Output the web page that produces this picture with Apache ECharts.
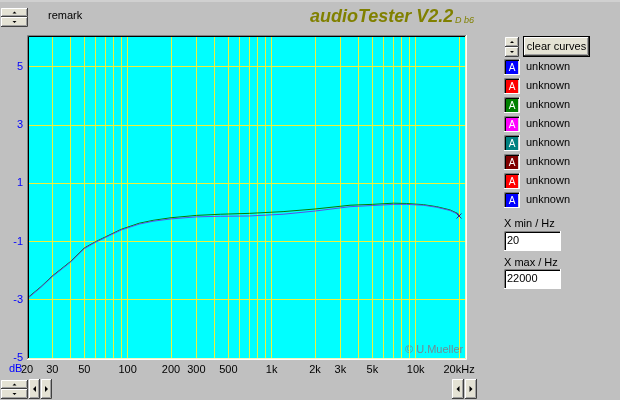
<!DOCTYPE html>
<html><head><meta charset="utf-8">
<script src="https://cdn.jsdelivr.net/npm/echarts@6/dist/echarts.min.js"></script>
<style>html,body{margin:0;padding:0;background:#c0c0c0;}#c{width:620px;height:400px;}</style>
</head><body><div id="c"></div>
<script>
// ---- data ----
const freqHz = [20, 25, 30, 40, 50, 60, 70, 90, 120, 150, 200, 300, 440, 700, 1200, 2000, 3500, 5000, 7000, 8600, 11300, 14000, 17300, 19700, 20000];
const curveGreenDb = [-2.95, -2.55, -2.18, -1.69, -1.22, -1.0, -0.84, -0.58, -0.37, -0.27, -0.18, -0.10, -0.06, -0.03, 0.03, 0.12, 0.25, 0.28, 0.32, 0.31, 0.27, 0.20, 0.09, -0.04, -0.10];
const curveBlueDb  = [-2.97, -2.57, -2.20, -1.71, -1.24, -1.02, -0.86, -0.60, -0.40, -0.30, -0.22, -0.15, -0.13, -0.12, -0.06, 0.05, 0.20, 0.24, 0.28, 0.28, 0.25, 0.18, 0.07, -0.06, -0.12];
const yTickValues = [-5, -3, -1, 1, 3, 5];
const xGridValues = [20, 30, 40, 50, 60, 70, 80, 90, 100, 200, 300, 400, 500, 600, 700, 800, 900, 1000, 2000, 3000, 4000, 5000, 6000, 7000, 8000, 9000, 10000, 20000];
const xLabelValues = [20, 30, 50, 100, 200, 300, 500, 1000, 2000, 3000, 5000, 10000, 20000];
const legendNames = ['unknown', 'unknown', 'unknown', 'unknown', 'unknown', 'unknown', 'unknown', 'unknown'];
const legendColors = ['#0000ff', '#ff0000', '#008000', '#ff00ff', '#008080', '#800000', '#ff0000', '#0000ff'];
const titleText = 'audioTester V2.2';
const versionText = 'D b6';
const remarkText = 'remark';
const xMinText = '20';
const xMaxText = '22000';

// ---- styles ----
const FONT = 'Liberation Sans, Arial, sans-serif';
const GRIDC = '#f0f038';
const FACE = '#e4e2d4';

function zip(a, b) { return a.map((v, i) => [v, b[i]]); }

function raised(x, y, w, h) {
  return [
    {type: 'rect', shape: {x: x, y: y, width: w, height: h}, style: {fill: FACE}},
    {type: 'polyline', shape: {points: [[x + 0.5, y + h - 1], [x + 0.5, y + 0.5], [x + w - 1, y + 0.5]]}, style: {stroke: '#ffffff', fill: 'none', lineWidth: 1}},
    {type: 'polyline', shape: {points: [[x, y + h - 0.5], [x + w - 0.5, y + h - 0.5], [x + w - 0.5, y]]}, style: {stroke: '#404040', fill: 'none', lineWidth: 1}},
    {type: 'polyline', shape: {points: [[x + 1, y + h - 1.5], [x + w - 1.5, y + h - 1.5], [x + w - 1.5, y + 1]]}, style: {stroke: '#a0a0a0', fill: 'none', lineWidth: 1}}
  ];
}
function sunken(x, y, w, h, fill) {
  return [
    {type: 'rect', shape: {x: x, y: y, width: w, height: h}, style: {fill: fill}},
    {type: 'polyline', shape: {points: [[x + 0.5, y + h], [x + 0.5, y + 0.5], [x + w, y + 0.5]]}, style: {stroke: '#808080', fill: 'none', lineWidth: 1}},
    {type: 'polyline', shape: {points: [[x + 1.5, y + h - 1], [x + 1.5, y + 1.5], [x + w - 1, y + 1.5]]}, style: {stroke: '#000000', fill: 'none', lineWidth: 1}},
    {type: 'polyline', shape: {points: [[x, y + h - 0.5], [x + w - 0.5, y + h - 0.5], [x + w - 0.5, y]]}, style: {stroke: '#ffffff', fill: 'none', lineWidth: 1}}
  ];
}
function tri(points) { return {type: 'polygon', shape: {points: points}, style: {fill: '#000'}}; }
function spinner(x, y, w, h) {
  const h1 = Math.floor(h / 2);
  const cx = x + w / 2;
  return [].concat(
    raised(x, y, w, h1), raised(x, y + h1, w, h - h1),
    [tri([[cx - 2, y + h1 / 2 + 1], [cx + 2, y + h1 / 2 + 1], [cx, y + h1 / 2 - 1]]),
     tri([[cx - 2, y + h1 + (h - h1) / 2 - 1], [cx + 2, y + h1 + (h - h1) / 2 - 1], [cx, y + h1 + (h - h1) / 2 + 1]])]
  );
}
function arrowBtn(x, y, w, h, dir) {
  const cx = x + w / 2, cy = y + h / 2;
  const t = dir < 0 ? tri([[cx + 1.5, cy - 3], [cx + 1.5, cy + 3], [cx - 1.5, cy]]) : tri([[cx - 1.5, cy - 3], [cx - 1.5, cy + 3], [cx + 1.5, cy]]);
  return raised(x, y, w, h).concat([t]);
}
function txt(x, y, s, opt) {
  return {type: 'text', x: x, y: y, style: Object.assign({text: s, fill: '#000', font: '11px ' + FONT, verticalAlign: 'middle'}, opt || {})};
}

const g = [];
// top strip
g.push({type: 'rect', shape: {x: 0, y: 0, width: 620, height: 2}, style: {fill: '#d0d0d0'}});
g.push(...spinner(1, 8, 27, 19));
g.push(txt(48, 16, remarkText));
g.push(txt(310, 17, titleText, {fill: '#808000', font: 'italic bold 18px ' + FONT}));
g.push(txt(455, 20, versionText, {fill: '#808000', font: 'italic 9px ' + FONT}));
// right panel
g.push(...spinner(505, 37, 14, 20));
g.push({type: 'rect', shape: {x: 523, y: 36, width: 67, height: 21}, style: {fill: '#000'}});
g.push(...raised(524, 37, 65, 19));
g.push(txt(556.5, 47, 'clear curves', {align: 'center'}));
legendNames.forEach((name, i) => {
  const cy = 67 + i * 19;
  g.push(...sunken(504, cy - 8, 16, 16, '#d8d8d8'));
  g.push({type: 'rect', shape: {x: 506, y: cy - 6, width: 12, height: 13}, style: {fill: legendColors[i]}});
  g.push(txt(512, cy + 1, 'A', {fill: '#ffffff', align: 'center', font: '10px ' + FONT}));
  g.push(txt(526, cy, name));
});
g.push(txt(504, 224, 'X min / Hz'));
g.push(...sunken(504, 231, 57, 20, '#ffffff'));
g.push(txt(507, 241, xMinText));
g.push(txt(504, 263, 'X max / Hz'));
g.push(...sunken(504, 269, 57, 20, '#ffffff'));
g.push(txt(507, 279, xMaxText));
// bottom controls
g.push(...spinner(1, 380, 27, 19));
g.push(...arrowBtn(29, 379, 11, 20, -1));
g.push(...arrowBtn(41, 379, 11, 20, 1));
g.push(...arrowBtn(452, 379, 12, 20, -1));
g.push(...arrowBtn(465, 379, 12, 20, 1));
g.push(txt(9, 369, 'dB', {fill: '#0000ff'}));
// plot frame
g.push({type: 'polyline', shape: {points: [[27.5, 360], [27.5, 35.5], [467, 35.5]]}, style: {stroke: '#808080', fill: 'none', lineWidth: 1}, z: 100});
g.push({type: 'polyline', shape: {points: [[28.5, 359], [28.5, 36.5], [466, 36.5]]}, style: {stroke: '#000000', fill: 'none', lineWidth: 1}, z: 100});
g.push({type: 'polyline', shape: {points: [[28, 358.5], [465.5, 358.5], [465.5, 36]]}, style: {stroke: '#f4f8c0', fill: 'none', lineWidth: 1}, z: 100});
g.push({type: 'polyline', shape: {points: [[27, 359.5], [466.5, 359.5], [466.5, 35]]}, style: {stroke: '#ffffff', fill: 'none', lineWidth: 1}, z: 100});
g.push(txt(405, 350, '\u00a9 U.Mueller', {fill: '#6f8c94'}));

const chart = echarts.init(document.getElementById('c'), null, {renderer: 'canvas'});
const lastIdx = freqHz.length - 1;
function seriesData(vals, withMark) {
  return zip(freqHz, vals).map((p, i) => (withMark && i === lastIdx) ? {value: p, symbol: 'path://M0,0L10,10M10,0L0,10', symbolSize: 5} : p);
}
chart.setOption({
  animation: false,
  backgroundColor: '#c0c0c0',
  grid: {left: 27, top: 36, width: 438, height: 322, show: true, backgroundColor: '#00ffff', borderWidth: 0, outerBoundsMode: 'none'},
  xAxis: {
    type: 'log', logBase: 10, min: 20, max: 22000,
    axisLine: {show: false},
    axisTick: {show: false, customValues: xGridValues},
    axisLabel: {
      customValues: xLabelValues, color: '#000', fontSize: 11, fontFamily: FONT, margin: 6,
      formatter: v => v === 20000 ? '20kHz' : (v >= 1000 ? (v / 1000) + 'k' : String(v))
    },
    splitLine: {show: false},
    minorSplitLine: {show: false}
  },
  yAxis: {
    type: 'value', min: -5, max: 6.065,
    axisLine: {show: false},
    axisTick: {show: false, customValues: yTickValues},
    axisLabel: {customValues: yTickValues, color: '#0000ff', fontSize: 11, fontFamily: FONT, margin: 4},
    splitLine: {show: false}
  },
  series: [
    {type: 'line', data: seriesData(curveGreenDb, false), symbol: 'none', lineStyle: {color: '#008000', width: 1}, silent: true},
    {type: 'line', data: seriesData(curveBlueDb, true), symbol: 'none', showSymbol: true, lineStyle: {color: '#5a50e8', width: 1}, itemStyle: {color: '#5a50e8', borderColor: '#402080', borderWidth: 1}, silent: true}
  ],
  graphic: {elements: g}
});

// crisp 1px grid lines placed through the axes' own scales
const gridEls = [];
const plotTop = 36, plotBottom = 358, plotLeft = 27, plotRight = 465;
xGridValues.forEach(v => {
  const px = Math.floor(chart.convertToPixel({gridIndex: 0}, [v, 0])[0]) + 0.5;
  gridEls.push({type: 'line', shape: {x1: px, y1: plotTop, x2: px, y2: plotBottom}, style: {stroke: GRIDC, lineWidth: 1}, z: 1, silent: true});
});
yTickValues.forEach(v => {
  const py = Math.floor(chart.convertToPixel({gridIndex: 0}, [100, v])[1]) + 0.5;
  gridEls.push({type: 'line', shape: {x1: plotLeft, y1: py, x2: plotRight, y2: py}, style: {stroke: GRIDC, lineWidth: 1}, z: 1, silent: true});
});
chart.setOption({graphic: {elements: g.concat(gridEls)}});
</script>
</body></html>
